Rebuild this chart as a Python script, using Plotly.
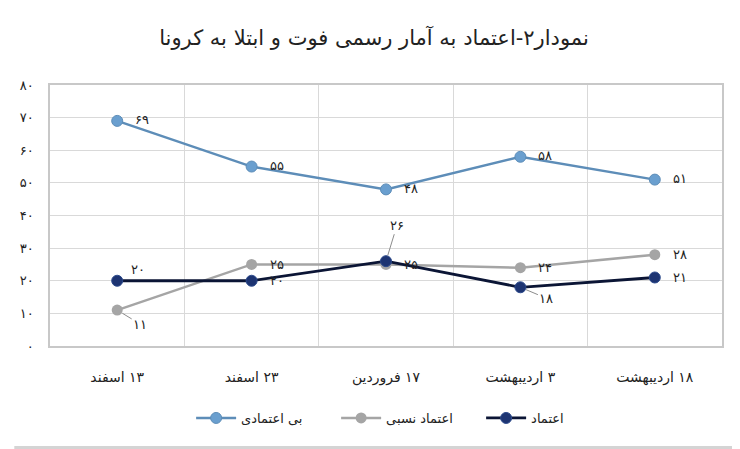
import plotly.graph_objects as go

# data
categories = ["۱۳ اسفند", "۲۳ اسفند", "۱۷ فروردین", "۳ اردیبهشت", "۱۸ اردیبهشت"]
distrust = [69, 55, 48, 58, 51]
relative_trust = [11, 25, 25, 24, 28]
trust = [20, 20, 26, 18, 21]
series_names = ["بی اعتمادی", "اعتماد نسبی", "اعتماد"]
y_ticks = [0, 10, 20, 30, 40, 50, 60, 70, 80]
title = "نمودار۲-اعتماد به آمار رسمی فوت و ابتلا به کرونا"

FA_DIGITS = str.maketrans("0123456789", "۰۱۲۳۴۵۶۷۸۹")
RLM = "\u200f"


def fa(n):
    return str(n).translate(FA_DIGITS)


font = "DejaVu Sans"
txt_color = "#222222"

# the page body has an 8px margin, so the figure is a bit smaller
W, H = 732, 441
ML, MR, MT, MB = 36, 18, 77, 103

fig = go.Figure()

fig.add_trace(go.Scatter(
    x=categories, y=distrust, name=series_names[0], mode="lines+markers",
    line=dict(color="#5d8db8", width=2.5),
    marker=dict(color="#6a9fcf", size=11, line=dict(color="#5d8db8", width=1)),
))
fig.add_trace(go.Scatter(
    x=categories, y=relative_trust, name=series_names[1], mode="lines+markers",
    line=dict(color="#a5a5a5", width=2.5),
    marker=dict(color="#a5a5a5", size=11),
))
fig.add_trace(go.Scatter(
    x=categories, y=trust, name=series_names[2], mode="lines+markers",
    line=dict(color="#0b1535", width=2.8),
    marker=dict(color="#1d3472", size=11, line=dict(color="#2c4a8c", width=1)),
))

# data labels (offset in px, optional leader line)
lbl_font = dict(family=font, size=13, color=txt_color)


def label(x, y, dx, dy, leader=False):
    if leader:
        fig.add_annotation(x=x, y=y, text=fa(y), showarrow=True, ax=dx, ay=dy,
                           arrowhead=0, arrowwidth=1, arrowcolor="#8c8c8c",
                           standoff=6, font=lbl_font)
    else:
        fig.add_annotation(x=x, y=y, text=fa(y), showarrow=False,
                           xanchor="left", xshift=dx, yshift=-dy, font=lbl_font)


for c, v in zip(categories, distrust):
    label(c, v, 16, -1)
for i, (c, v) in enumerate(zip(categories, relative_trust)):
    if i == 0:
        label(c, v, 23, 14, leader=True)
    else:
        label(c, v, 16, 0)
for i, (c, v) in enumerate(zip(categories, trust)):
    if i == 0:
        label(c, v, 12, -11)
    elif i == 2:
        label(c, v, 11, -36, leader=True)
    elif i == 3:
        label(c, v, 26, 11, leader=True)
    else:
        label(c, v, 16, 0)

plot_h = H - MT - MB
plot_w = W - ML - MR

# thin grey band at the bottom edge of the picture
fig.add_shape(type="rect", xref="paper", yref="paper",
              x0=-ML / plot_w, x1=(W - ML) / plot_w,
              y0=-MB / plot_h, y1=-(MB - 3) / plot_h,
              fillcolor="#d4d4d4", line=dict(width=0), layer="below")

fig.update_layout(
    width=W, height=H,
    margin=dict(l=ML, r=MR, t=MT, b=MB),
    paper_bgcolor="white", plot_bgcolor="white",
    title=dict(text=RLM + title, x=0.5, xanchor="center",
               y=1 - 30 / H, yanchor="middle",
               font=dict(family=font, size=21, color=txt_color)),
    font=dict(family=font, size=12, color=txt_color),
    showlegend=True,
    legend=dict(orientation="h", x=0.21, xanchor="left",
                y=-72 / plot_h, yanchor="middle",
                font=dict(family=font, size=13, color=txt_color),
                itemwidth=40, entrywidth=90, traceorder="normal"),
    xaxis=dict(type="category", range=[-0.5, 4.5], tickson="boundaries",
               tickvals=categories, ticktext=[RLM + c for c in categories],
               showgrid=True, gridcolor="#d9d9d9", gridwidth=1.3, ticks="",
               showline=True, linecolor="#c8c8c8", linewidth=1.5, mirror=True,
               tickfont=dict(family=font, size=14, color=txt_color),
               ticklabelstandoff=17),
    yaxis=dict(range=[0, 80], tickvals=y_ticks, ticktext=[fa(v) for v in y_ticks],
               showgrid=True, gridcolor="#d9d9d9", gridwidth=1.3, zeroline=False,
               showline=True, linecolor="#c8c8c8", linewidth=1.5, mirror=True,
               ticks="", tickfont=dict(family=font, size=13, color=txt_color),
               ticklabelstandoff=12),
)

fig.write_html("out.html")
